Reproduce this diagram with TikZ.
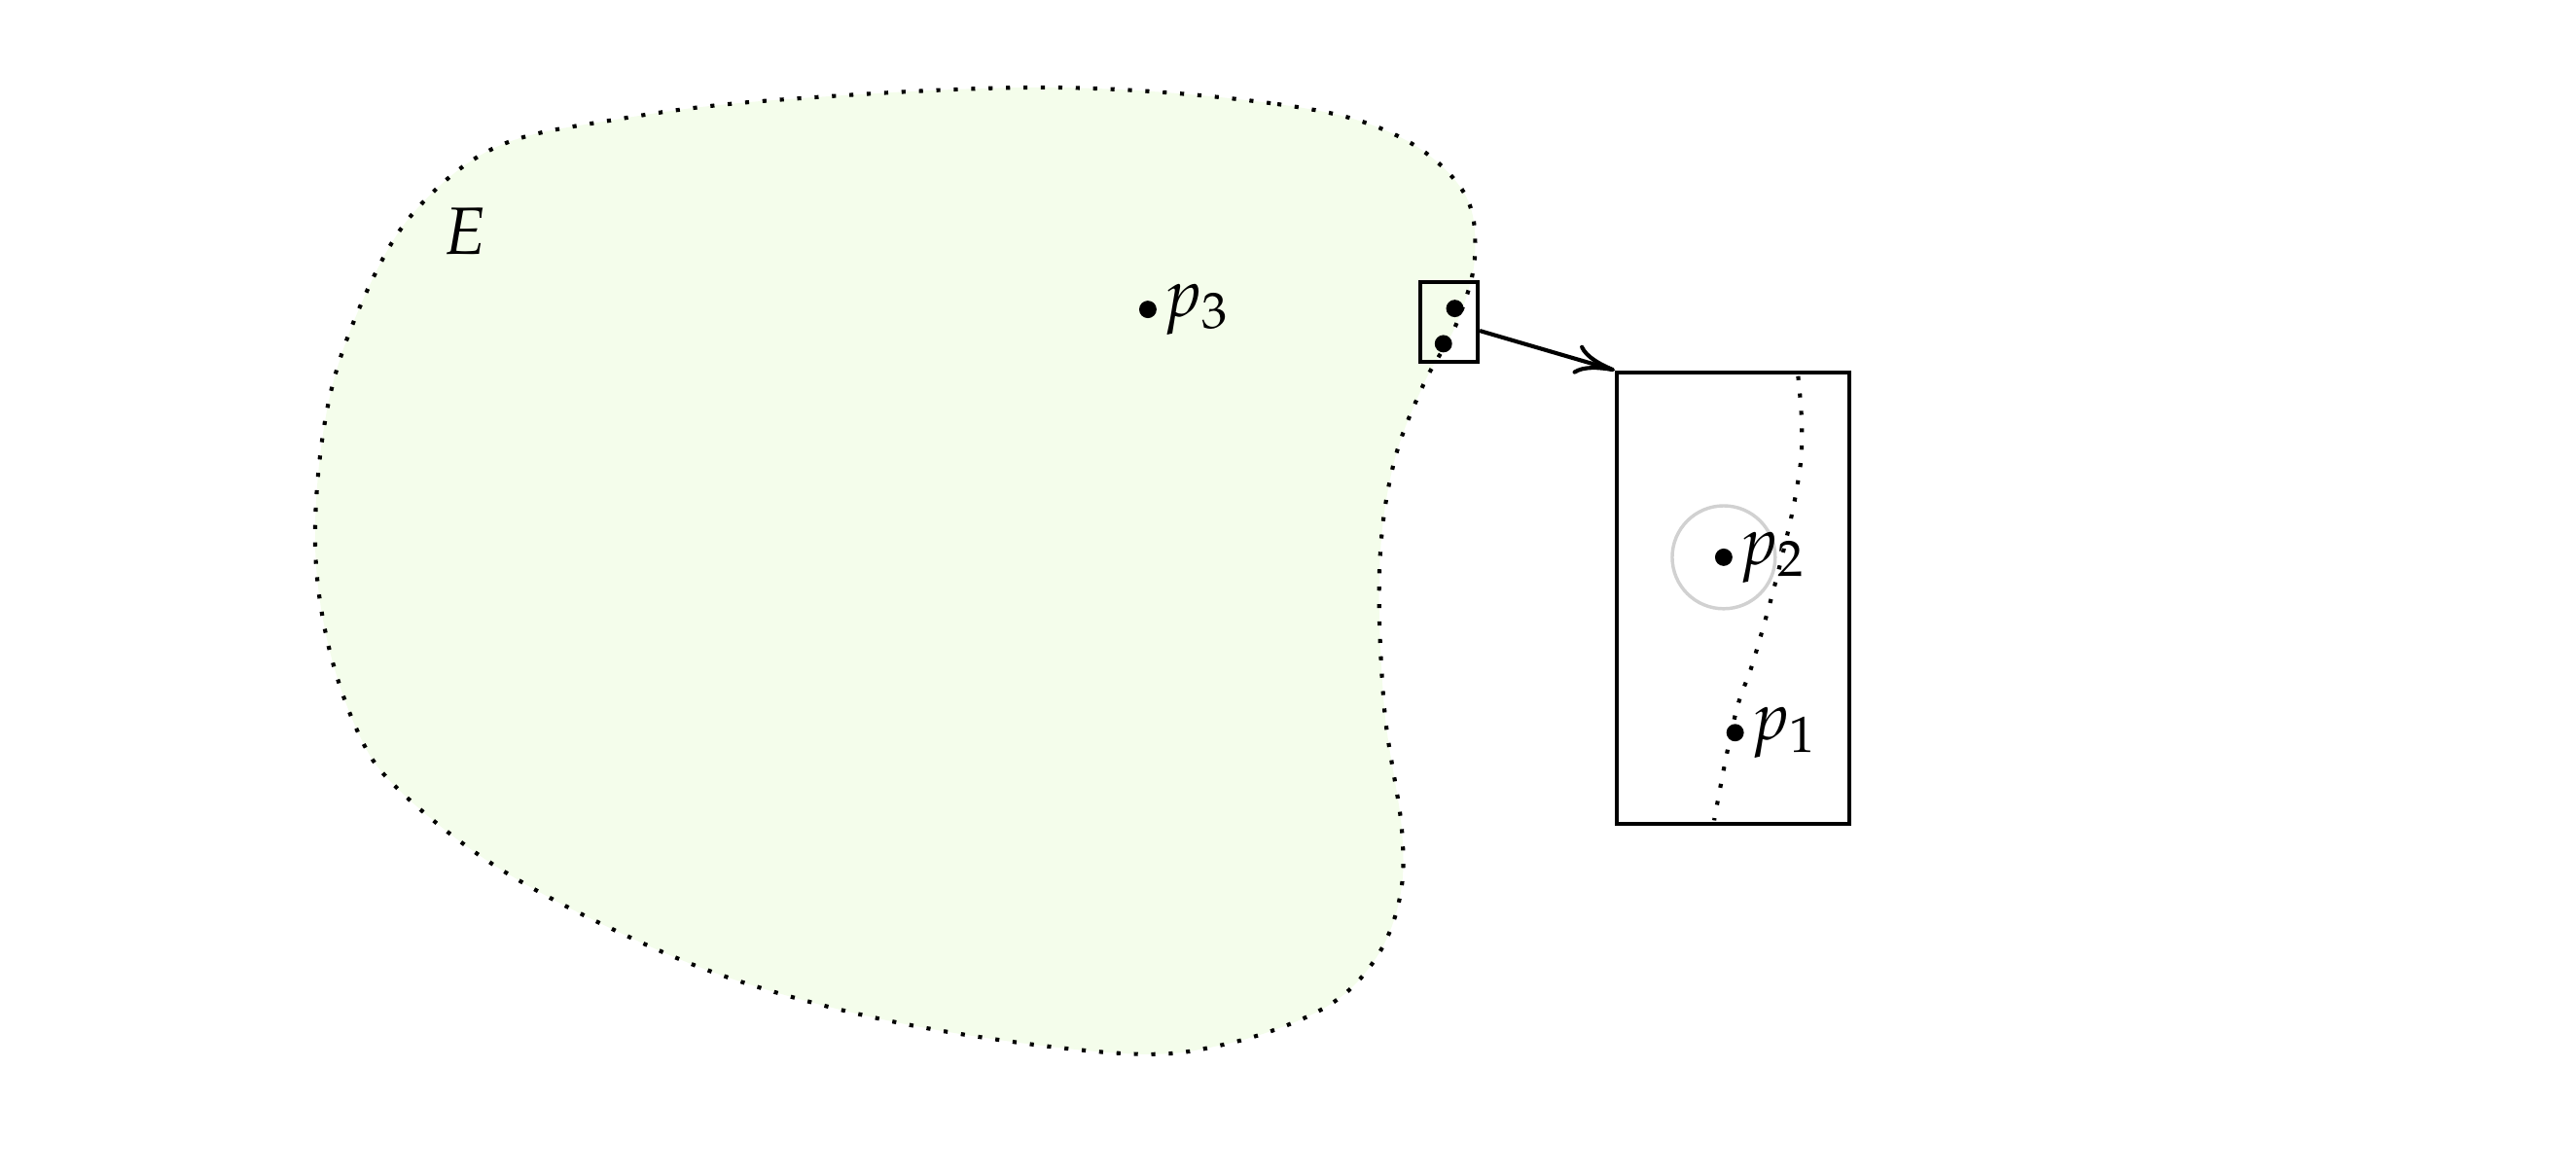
\documentclass[tikz,border=0pt]{standalone}
\usepackage{amsmath}
\usepackage{mathpazo}
\usepackage{xcolor}
\usepackage{tikz}
\usetikzlibrary{arrows.meta}
\usetikzlibrary{positioning}

\definecolor{regiongreen}{RGB}{244,253,235}

\begin{document}
\begin{tikzpicture}

\tikzstyle{point} = [circle, fill=black, inner sep=0pt, minimum size=2.6pt]
\tikzstyle{window} = [draw, semithick, inner sep=0pt]
\tikzstyle{boundary} = [semithick, dotted]
\tikzstyle{ptlabel} = [inner sep=0.6pt]

\useasboundingbox (0,0) rectangle (13.51,6.163);

% the region E
\filldraw[boundary, fill=regiongreen] plot[smooth cycle, tension=0.6] coordinates {
  (5.515,5.704) (6.699,5.617) (7.311,5.459) (7.668,5.168) (7.735,4.821)
  (7.638,4.464) (7.464,4.143) (7.306,3.719) (7.235,3.179) (7.260,2.449)
  (7.352,1.811) (7.337,1.434) (7.199,1.112) (6.929,0.867) (6.418,0.684)
  (5.878,0.638) (4.827,0.776) (3.913,1.005) (3.230,1.281) (2.587,1.628)
  (2.092,2.020) (1.878,2.321) (1.709,2.837) (1.653,3.408) (1.735,4.107)
  (1.954,4.699) (2.209,5.092) (2.617,5.398) (3.230,5.536) (4.066,5.638)};

\node (E) at (2.44,4.95) {$E$};

\node[point] (p3) at (6.02,4.54) {};
\node[ptlabel] (3) [right=0pt of p3] {$p_3$};

% small window on the boundary
\node[window, minimum width=0.30cm, minimum height=0.42cm] (small) at (7.60,4.475) {};
\node[point] (s2) at (7.63,4.545) {};
\node[point] (s1) at (7.57,4.36) {};

% enlarged window
\node[window, minimum width=1.22cm, minimum height=2.37cm] (big) at (9.09,3.025) {};
\draw[boundary] plot[smooth, tension=0.7] coordinates {
  (9.43,4.19) (9.45,3.91) (9.43,3.64) (9.34,3.22) (9.20,2.71) (9.10,2.41) (8.99,1.86)};

\node[point] (p2) at (9.04,3.24) {};
\draw[black!18, line width=0.5pt] (p2) circle (0.27);
\node[ptlabel] (2) [right=0pt of p2] {$p_2$};

\node[point] (p1) at (9.10,2.32) {};
\node[ptlabel] (1) [right=0pt of p1] {$p_1$};

\draw[-{To[length=6pt, width=4.5pt]}, semithick] (small) -- (big.north west);

\end{tikzpicture}
\end{document}
